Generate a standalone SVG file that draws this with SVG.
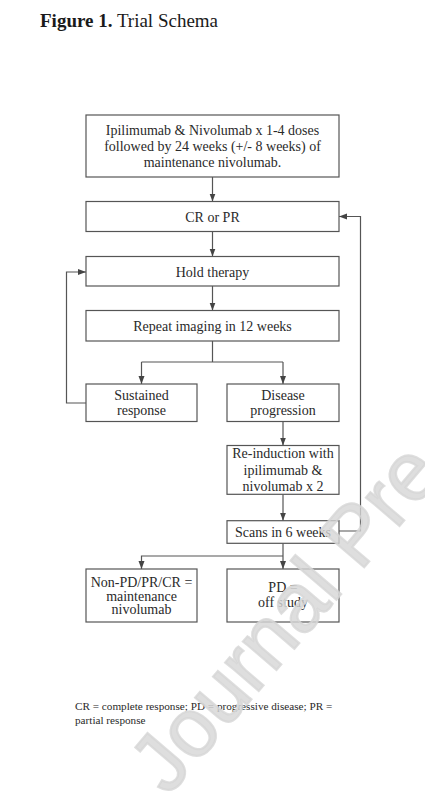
<svg xmlns="http://www.w3.org/2000/svg" width="425" height="797" viewBox="0 0 425 797">
<style>
.bg{fill:#ffffff}
.box{fill:#ffffff;stroke:#555555;stroke-width:1.2}
.t{font-family:"Liberation Serif","Times New Roman",serif;font-size:14px;fill:#2a2a2a;text-anchor:middle}
.ln{fill:none;stroke:#555555;stroke-width:1.2}
.title{font-family:"Liberation Serif","Times New Roman",serif;font-size:19px;fill:#1a1a1a}
.fn{font-family:"Liberation Serif","Times New Roman",serif;font-size:11.2px;fill:#2a2a2a}
.wm{font-family:"Liberation Sans",Arial,sans-serif;font-size:83px;fill:#d6d6d6;fill-opacity:0.8;stroke:#d6d6d6;stroke-opacity:0.8;stroke-width:2.2}
</style>
<defs>
<marker id="ah" markerUnits="userSpaceOnUse" markerWidth="8" markerHeight="8" viewBox="0 0 8 8" refX="8" refY="4" orient="auto">
<path d="M0,1 L8,4 L0,7 Z" fill="#444444"/>
</marker>
</defs>
<rect class="bg" x="0" y="0" width="425" height="797"/>
<text class="title" x="40" y="27"><tspan font-weight="bold">Figure 1.</tspan> Trial Schema</text>

<g id="connectors">
<path class="ln" d="M212.5,177 V201.5" marker-end="url(#ah)"/>
<path class="ln" d="M212.5,231.5 V256.5" marker-end="url(#ah)"/>
<path class="ln" d="M212.5,286 V310.5" marker-end="url(#ah)"/>
<path class="ln" d="M212.5,341 V362 M141.5,362 H283"/>
<path class="ln" d="M141.5,362 V384" marker-end="url(#ah)"/>
<path class="ln" d="M283,362 V384" marker-end="url(#ah)"/>
<path class="ln" d="M86,403 H66.5 V272 H86" marker-end="url(#ah)"/>
<path class="ln" d="M283,421.5 V445.5" marker-end="url(#ah)"/>
<path class="ln" d="M283,494.3 V520.7" marker-end="url(#ah)"/>
<path class="ln" d="M339,531 H360.5 V216.5 H339" marker-end="url(#ah)"/>
<path class="ln" d="M283,543.3 V569" marker-end="url(#ah)"/>
<path class="ln" d="M283,556 H141.5 V569" marker-end="url(#ah)"/>
</g>

<g id="n_induction">
<rect class="box" x="86" y="115" width="253" height="62"/>
<text class="t" x="212.5" y="134.5">Ipilimumab &amp; Nivolumab x 1-4 doses</text>
<text class="t" x="212.5" y="150.5">followed by 24 weeks (+/- 8 weeks) of</text>
<text class="t" x="212.5" y="166.5">maintenance nivolumab.</text>
</g>
<g id="n_crpr">
<rect class="box" x="86" y="201.5" width="253" height="30"/>
<text class="t" x="212.5" y="221.5">CR or PR</text>
</g>
<g id="n_hold">
<rect class="box" x="86" y="256.5" width="253" height="29.5"/>
<text class="t" x="212.5" y="276.5">Hold therapy</text>
</g>
<g id="n_repeat">
<rect class="box" x="86" y="310.5" width="253" height="30.5"/>
<text class="t" x="212.5" y="330.5">Repeat imaging in 12 weeks</text>
</g>
<g id="n_sustained">
<rect class="box" x="86" y="384" width="111" height="37.5"/>
<text class="t" x="141.5" y="399.5">Sustained</text>
<text class="t" x="141.5" y="415">response</text>
</g>
<g id="n_progression">
<rect class="box" x="227" y="384" width="112" height="37.5"/>
<text class="t" x="283" y="399.5">Disease</text>
<text class="t" x="283" y="415">progression</text>
</g>
<g id="n_reinduction">
<rect class="box" x="227" y="445.5" width="112" height="48.8"/>
<text class="t" x="283" y="458">Re-induction with</text>
<text class="t" x="283" y="474.5">ipilimumab &amp;</text>
<text class="t" x="283" y="491">nivolumab x 2</text>
</g>
<g id="n_scans">
<rect class="box" x="227" y="520.7" width="112" height="22.6"/>
<text class="t" x="283" y="536.5">Scans in 6 weeks</text>
</g>
<g id="n_maint">
<rect class="box" x="86" y="569" width="111" height="53"/>
<text class="t" x="141.5" y="587">Non-PD/PR/CR =</text>
<text class="t" x="141.5" y="600.5">maintenance</text>
<text class="t" x="141.5" y="614">nivolumab</text>
</g>
<g id="n_pd">
<rect class="box" x="227" y="569" width="112" height="53"/>
<text class="t" x="283" y="592">PD =</text>
<text class="t" x="283" y="607">off study</text>
</g>

<text class="fn" x="75" y="709.5">CR = complete response; PD = progressive disease; PR =</text>
<text class="fn" x="75" y="723.5">partial response</text>

<text class="wm" x="0" y="0" transform="translate(168,797) rotate(-49.5)">Journal Pre</text>
</svg>
